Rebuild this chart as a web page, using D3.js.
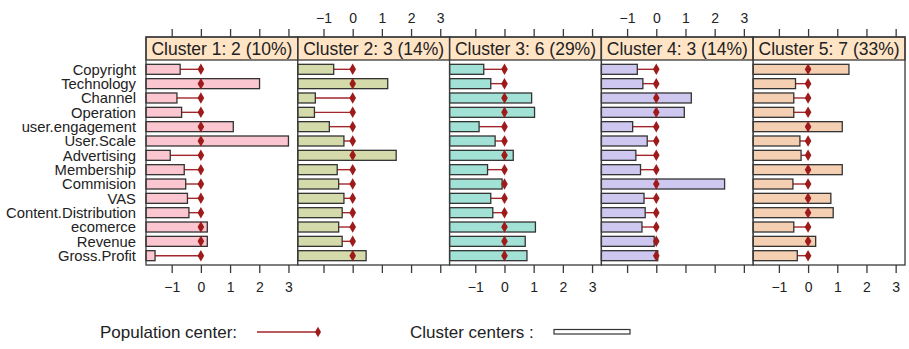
<!DOCTYPE html>
<html>
<head>
<meta charset="utf-8">
<script src="https://cdn.jsdelivr.net/npm/d3@7"></script>
<style>
  body { margin: 0; background: white; }
  text { font-family: "Liberation Sans", Arial, sans-serif; fill: #222; }
</style>
</head>
<body>
<div id="chart"></div>
<script>
var variables = ["Copyright", "Technology", "Channel", "Operation", "user.engagement", "User.Scale",
  "Advertising", "Membership", "Commision", "VAS", "Content.Distribution", "ecomerce", "Revenue", "Gross.Profit"];

var clusterTitles = ["Cluster 1: 2 (10%)", "Cluster 2: 3 (14%)", "Cluster 3: 6 (29%)", "Cluster 4: 3 (14%)", "Cluster 5: 7 (33%)"];

var cluster1 = [-0.71, 2.01, -0.82, -0.66, 1.11, 3.0, -1.05, -0.57, -0.52, -0.46, -0.41, 0.22, 0.22, -1.57];
var cluster2 = [-0.65, 1.2, -1.28, -1.31, -0.8, -0.3, 1.49, -0.53, -0.48, -0.3, -0.36, -0.48, -0.36, 0.46];
var cluster3 = [-0.71, -0.47, 0.93, 1.03, -0.87, -0.32, 0.3, -0.58, -0.08, -0.47, -0.4, 1.06, 0.71, 0.77];
var cluster4 = [-0.65, -0.46, 1.2, 0.96, -0.81, -0.31, -0.7, -0.54, 2.34, -0.42, -0.38, -0.49, -0.07, 0.05];
var cluster5 = [1.4, -0.43, -0.49, -0.49, 1.17, -0.28, -0.24, 1.17, -0.52, 0.78, 0.86, -0.49, 0.26, -0.37];

var populationCenter = 0;
var tickValues = [-1, 0, 1, 2, 3];
var clusterColors = ["#FBC6D0", "#D5DAAA", "#A2E2D6", "#CEC8F0", "#F5CFB2"];

var clusters = [cluster1, cluster2, cluster3, cluster4, cluster5];

var W = 909, H = 349;
var left = 146, right = 905, stripTop = 37, stripBottom = 60, panelBottom = 265;
var panelW = (right - left) / clusters.length;

var svg = d3.select("#chart").append("svg")
  .attr("width", W)
  .attr("height", H);

var x = d3.scaleLinear().domain([-1.88, 3.32]).range([0, panelW]);
var y = d3.scalePoint().domain(variables).range([stripBottom, panelBottom]).padding(0.65);
var barH = 10;

// row labels
svg.append("g").selectAll("text").data(variables).enter().append("text")
  .attr("x", 136)
  .attr("y", function (d) { return y(d); })
  .attr("dy", "0.36em")
  .attr("text-anchor", "end")
  .style("font-size", "14.8px")
  .text(function (d) { return d; });

clusters.forEach(function (vals, k) {
  var g = svg.append("g").attr("transform", "translate(" + (left + k * panelW) + ",0)");

  // panel box
  g.append("rect")
    .attr("x", 0).attr("y", stripTop)
    .attr("width", panelW).attr("height", panelBottom - stripTop)
    .attr("fill", "white");

  // strip
  g.append("rect")
    .attr("x", 0).attr("y", stripTop)
    .attr("width", panelW).attr("height", stripBottom - stripTop)
    .attr("fill", "#FFE4C6")
    .attr("stroke", "#3a3a3a")
    .attr("stroke-width", 1.3);
  g.append("text")
    .attr("x", panelW / 2)
    .attr("y", (stripTop + stripBottom) / 2)
    .attr("dy", "0.36em")
    .attr("text-anchor", "middle")
    .style("font-size", "17.5px")
    .text(clusterTitles[k]);

  var rows = vals.map(function (v, i) { return { name: variables[i], value: v }; });

  // lines to population center
  g.selectAll("line.pc").data(rows).enter().append("line")
    .attr("class", "pc")
    .attr("x1", function (d) { return x(d.value); })
    .attr("x2", x(populationCenter))
    .attr("y1", function (d) { return y(d.name); })
    .attr("y2", function (d) { return y(d.name); })
    .attr("stroke", "#A3262A")
    .attr("stroke-width", 1.4);

  // bars from panel edge
  g.selectAll("rect.bar").data(rows).enter().append("rect")
    .attr("class", "bar")
    .attr("x", 0)
    .attr("y", function (d) { return y(d.name) - barH / 2; })
    .attr("width", function (d) { return x(d.value); })
    .attr("height", barH)
    .attr("fill", clusterColors[k])
    .attr("stroke", "#333")
    .attr("stroke-width", 1.3);

  // population center markers
  g.selectAll("path.pcm").data(rows).enter().append("path")
    .attr("class", "pcm")
    .attr("d", d3.symbol().type(d3.symbolDiamond).size(38))
    .attr("transform", function (d) { return "translate(" + x(populationCenter) + "," + y(d.name) + ")"; })
    .attr("fill", "#9E1B1B");

  // panel border
  g.append("rect")
    .attr("x", 0).attr("y", stripTop)
    .attr("width", panelW).attr("height", panelBottom - stripTop)
    .attr("fill", "none")
    .attr("stroke", "#3a3a3a")
    .attr("stroke-width", 1.3);

  // axes: labels on top for even panels, bottom for odd
  var topAxis = d3.axisTop(x).tickValues(tickValues).tickSize(8).tickPadding(6)
    .tickFormat(k % 2 === 1 ? d3.format("d") : function () { return ""; });
  var bottomAxis = d3.axisBottom(x).tickValues(tickValues).tickSize(8).tickPadding(9)
    .tickFormat(k % 2 === 0 ? d3.format("d") : function () { return ""; });

  var ta = g.append("g").attr("transform", "translate(0," + stripTop + ")").call(topAxis);
  var ba = g.append("g").attr("transform", "translate(0," + panelBottom + ")").call(bottomAxis);
  [ta, ba].forEach(function (a) {
    a.select(".domain").remove();
    a.selectAll("line").attr("stroke", "#3a3a3a").attr("stroke-width", 1.3);
    a.selectAll("text").style("font-size", "14px").attr("fill", "#222").attr("font-family", "Liberation Sans, Arial, sans-serif");
  });
});

// legend
var leg = svg.append("g");
leg.append("text")
  .attr("x", 100).attr("y", 332)
  .attr("dy", "0.36em")
  .style("font-size", "17px")
  .text("Population center:");
leg.append("line")
  .attr("x1", 257).attr("x2", 318)
  .attr("y1", 332).attr("y2", 332)
  .attr("stroke", "#A3262A").attr("stroke-width", 1.4);
leg.append("path")
  .attr("d", d3.symbol().type(d3.symbolDiamond).size(32))
  .attr("transform", "translate(318,332)")
  .attr("fill", "#9E1B1B");

leg.append("text")
  .attr("x", 410).attr("y", 332)
  .attr("dy", "0.36em")
  .style("font-size", "17px")
  .text("Cluster centers :");
leg.append("rect")
  .attr("x", 554).attr("y", 329.5)
  .attr("width", 76).attr("height", 4.5)
  .attr("fill", "white")
  .attr("stroke", "#333")
  .attr("stroke-width", 1.2);
</script>
</body>
</html>
